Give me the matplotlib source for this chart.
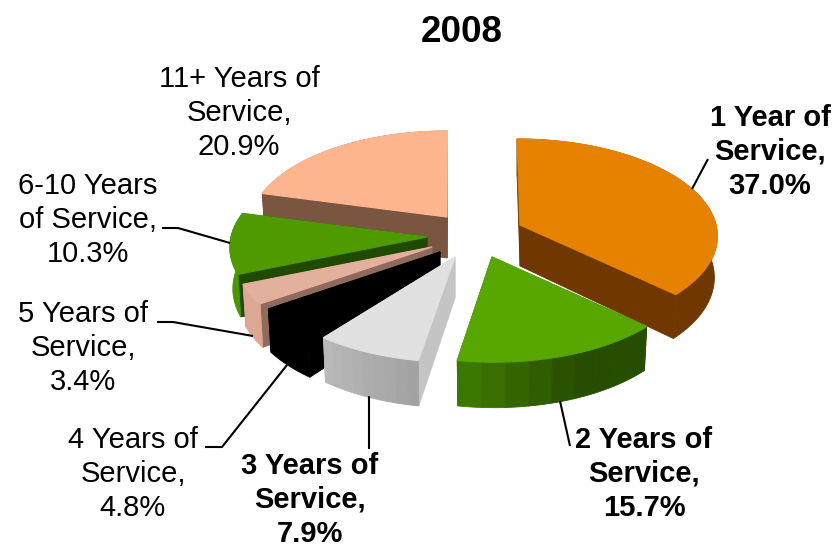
#!/usr/bin/env python3
"""Exploded 3D-style pie of staff by years of service, 2008."""

import numpy as np
import matplotlib
matplotlib.use('Agg')
import matplotlib.pyplot as plt

plt.rcParams['font.family'] = ['Liberation Sans', 'DejaVu Sans']

categories = ["1 Year of Service", "2 Years of Service", "3 Years of Service",
              "4 Years of Service", "5 Years of Service", "6-10 Years of Service",
              "11+ Years of Service"]
shares = [37.0, 15.7, 7.9, 4.8, 3.4, 10.3, 20.9]

W, H = 835, 550
CX, CY = 456, 237
RX, RY = 196, 94.6      # pie radii before foreshortening
PERSP = 0.10            # how much the far edge shrinks
DEPTH = 41
BASE_TAPER = 0.985      # the underside is slightly narrower than the top

# per slice styling, same order as categories
offsets = [(64, -12), (36, 20), (-1, 20), (-16, 15), (-24, 10), (-29, 0), (-9, -20)]
top_colors = ['#e68200', '#58a700', '#e1e1e1', '#000000', '#e2b09c', '#4e9a00', '#fdb58e']
side_colors = ['#703800', '#274d00', '#c4c4c4', '#000000', '#8f6a5d', '#1f4a00', '#7a5540']
rim_left = ['#703800', '#3c7800', '#b8b8b8', '#000000', '#dca893', '#4a9600', '#7a5540']
rim_right = ['#703800', '#274d00', '#a2a2a2', '#000000', '#dca893', '#4a9600', '#7a5540']
rim_fade = [1.0, 1.7, 1.0, 1.0, 1.0, 1.0, 1.0]
draw_order = [0, 6, 5, 4, 3, 2, 1]
BANDS = 9

# multi-line labels, placed by their centre
label_lines = ["1 Year of\nService,\n37.0%", "2 Years of\nService,\n15.7%",
               "3 Years of\nService,\n7.9%", "4 Years of\nService,\n4.8%",
               "5 Years of\nService,\n3.4%", "6-10 Years\nof Service,\n10.3%",
               "11+ Years of\nService,\n20.9%"]
label_pos = [(770, 152), (644, 474), (310, 500), (133, 474), (83, 348), (88, 220), (239, 113)]
label_bold = [True, True, True, False, False, False, False]
leaders = [[(692, 189), (708, 159)],
           [(560, 401), (570, 446)],
           [(369, 396), (369, 449)],
           [(287, 365), (222, 447), (205, 447)],
           [(253, 336), (173, 322), (157, 322)],
           [(230, 243), (178, 228), (162, 228)]]


def rim_points(t, ox, oy):
    """Project pie angles (clockwise from 12 o'clock) onto the page."""
    s = 1 / (1 + PERSP * np.cos(t))
    x = CX + ox * (1 + 0.5 * (s - 1)) + RX * np.sin(t) * s
    return x, CY + oy - RY * np.cos(t) * s, s


def mix(c1, c2, f):
    a, b = matplotlib.colors.to_rgb(c1), matplotlib.colors.to_rgb(c2)
    return tuple(a[i] + (b[i] - a[i]) * f for i in range(3))


fig = plt.figure(figsize=(W / 100, H / 100), dpi=100)
ax = fig.add_axes([0, 0, 1, 1])
ax.set_xlim(0, W)
ax.set_ylim(H, 0)
ax.axis('off')

edges = np.radians(np.concatenate([[0], np.cumsum(shares)]) * 3.6)

for i in draw_order:
    ox, oy = offsets[i]
    t = np.linspace(edges[i], edges[i + 1], 90)
    x, y, s = rim_points(t, ox, oy)
    px, py = CX + ox, CY + oy
    xb = px + (x - px) * BASE_TAPER
    yb = y + DEPTH * s

    # flat cut faces from the centre out to each end of the rim
    for j in (0, -1):
        ax.fill([px, x[j], xb[j], px], [py, y[j], yb[j], py + DEPTH],
                color=side_colors[i], lw=0.6)

    # outer wall, in narrow shaded bands only where the colour changes
    order = np.arange(len(t)) if x[0] < x[-1] else np.arange(len(t))[::-1]
    n_bands = BANDS if rim_left[i] != rim_right[i] else 1
    chunks = np.array_split(np.arange(len(t)), n_bands)
    for b, pos in enumerate(chunks):
        # run on to the next band's first point so they share an edge
        pos = np.r_[pos, pos[-1] + 1] if b < n_bands - 1 else pos
        idx = order[pos]
        c = mix(rim_left[i], rim_right[i], min(1, b / max(n_bands - 1, 1) * rim_fade[i]))
        ax.fill(np.r_[x[idx], xb[idx][::-1]], np.r_[y[idx], yb[idx][::-1]],
                color=c, lw=0.6)

    ax.fill(np.r_[px, x], np.r_[py, y], color=top_colors[i], lw=0.9)

for pts in leaders:
    xs, ys = zip(*pts)
    ax.plot(xs, ys, color='black', lw=1.5, solid_capstyle='butt')

ax.text(462, 33, "2008", ha='center', va='center', fontsize=26.5, fontweight='bold')

for txt, (lx, ly), bold in zip(label_lines, label_pos, label_bold):
    ax.text(lx, ly, txt, ha='center', va='center', fontsize=21, linespacing=1.29,
            fontweight='bold' if bold else 'normal', color='black')

fig.savefig('out.png', dpi=100)
